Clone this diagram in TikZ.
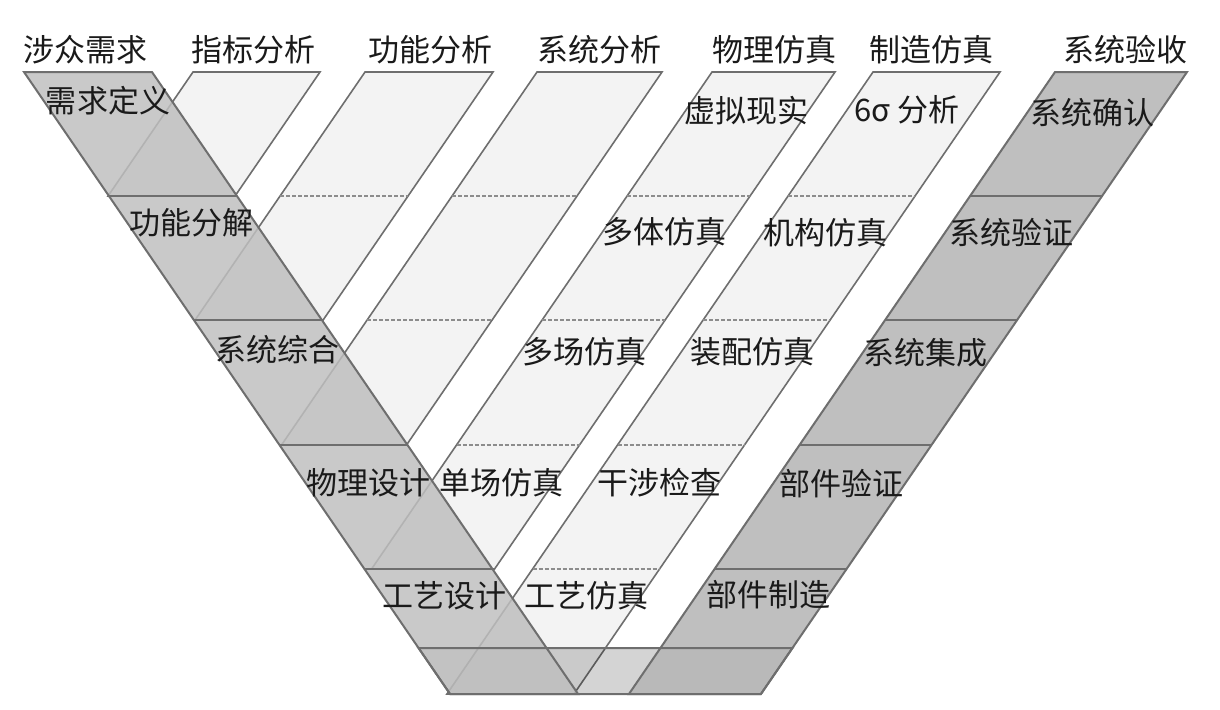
\documentclass[tikz,border=0pt]{standalone}
\usepackage{fontspec}
\newfontfamily\cjk{Noto Sans CJK SC}
\definecolor{colfill}{HTML}{F3F3F3}
\definecolor{bandfill}{HTML}{BFBFBF}
\definecolor{bandfillr}{HTML}{B4B4B4}
\definecolor{edge}{HTML}{6E6E6E}
\definecolor{dashc}{HTML}{8C8C8C}
\definecolor{ink}{HTML}{1A1A1A}
\newcommand{\vslope}{0.685}
\tikzset{
  colbox/.style={fill=colfill, draw=edge, line width=0.8pt},
  bandbox/.style={fill=bandfill, fill opacity=0.85, draw=edge, line width=1pt},
  barshade/.style={fill=black, fill opacity=0.17},
  rowline/.style={draw=edge, line width=1pt},
  rowdash/.style={draw=dashc, line width=0.6pt, dash pattern=on 2pt off 1pt},
  lbl/.style={font=\cjk\fontsize{15.5}{18}\selectfont, text=ink, inner sep=0pt}}

\begin{document}
\begin{tikzpicture}[x=0.5pt, y=-0.5pt]
  \useasboundingbox (0,0) rectangle (1220,709);
  \foreach \xl/\xr/\yb in {193/320/196, 365/493/320, 537/662/445, 712/835/569, 873/1000/694} {
    \draw[colbox] (\xl,72) -- (\xr,72) -- ({\xr-\vslope*(\yb-72)},\yb)
      -- ({\xl-\vslope*(\yb-72)},\yb) -- cycle;
    \foreach \yr in {196,320,445,569} {
      \ifnum\yr<\yb
        \draw[rowdash] ({\xl-\vslope*(\yr-72)},\yr) -- ({\xr-\vslope*(\yr-72)},\yr);
      \fi}
  }
  \fill[barshade] ({24+\vslope*576},648) -- ({1187-\vslope*576},648)
    -- ({1187-\vslope*622},694) -- ({24+\vslope*622},694) -- cycle;
  \draw[bandbox] (24,72) -- (152,72) -- ({152+\vslope*622},694)
    -- ({24+\vslope*622},694) -- cycle;
  \draw[bandbox, fill=bandfillr] (1055,72) -- (1187,72) -- ({1187-\vslope*622},694)
    -- ({1055-\vslope*622},694) -- cycle;
  \foreach \yr in {196,320,445,569} {
    \draw[rowline] ({24+\vslope*(\yr-72)},\yr) -- ({152+\vslope*(\yr-72)},\yr);
    \draw[rowline] ({1055-\vslope*(\yr-72)},\yr) -- ({1187-\vslope*(\yr-72)},\yr);
  }
  \draw[rowline] ({24+\vslope*576},648) -- ({1187-\vslope*576},648)
    -- ({1187-\vslope*622},694) -- ({24+\vslope*622},694) -- cycle;

  \node[lbl] (stake)  at (86,50)   {涉众需求};
  \node[lbl] (index)  at (253,50)  {指标分析};
  \node[lbl] (func)   at (430,50)  {功能分析};
  \node[lbl] (sysan)  at (599,50)  {系统分析};
  \node[lbl] (physim) at (774,50)  {物理仿真};
  \node[lbl] (mfgsim) at (931,50)  {制造仿真};
  \node[lbl] (accept) at (1125,50) {系统验收};

  \node[lbl] (reqdef) at (108,101) {需求定义};
  \node[lbl] (fdecom) at (191,223) {功能分解};
  \node[lbl] (synth)  at (277,350) {系统综合};
  \node[lbl] (phydes) at (368,483) {物理设计};
  \node[lbl] (prodes) at (444,596) {工艺设计};

  \node[lbl] (vr)     at (746,111) {虚拟现实};
  \node[lbl] (mbody)  at (664,232) {多体仿真};
  \node[lbl] (mfield) at (584,352) {多场仿真};
  \node[lbl] (sfield) at (501,483) {单场仿真};
  \node[lbl] (sigma)  at (907,110) {6σ 分析};
  \node[lbl] (mech)   at (825,233) {机构仿真};
  \node[lbl] (assy)   at (752,352) {装配仿真};
  \node[lbl] (clash)  at (659,483) {干涉检查};
  \node[lbl] (prosim) at (586,596) {工艺仿真};

  \node[lbl] (sysval) at (1092,113) {系统确认};
  \node[lbl] (sysver) at (1011,233) {系统验证};
  \node[lbl] (sysint) at (925,353)  {系统集成};
  \node[lbl] (partv)  at (841,484)  {部件验证};
  \node[lbl] (partm)  at (768,595)  {部件制造};
\end{tikzpicture}
\end{document}
